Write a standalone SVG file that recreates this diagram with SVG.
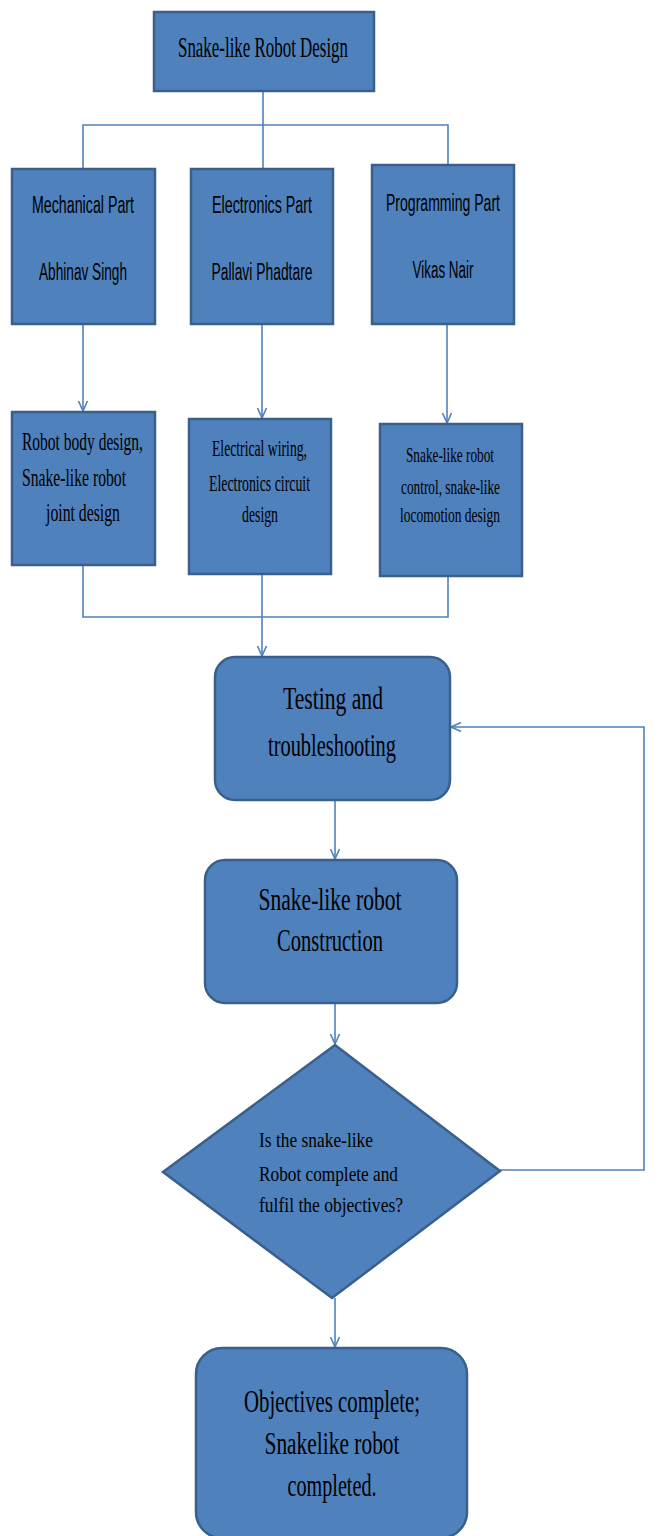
<svg xmlns="http://www.w3.org/2000/svg" width="668" height="1536" viewBox="0 0 668 1536">
<style>
.box{fill:#4F81BD;stroke:#3A5F8B;stroke-width:2.5}
.con{fill:none;stroke:#4F81BD;stroke-width:1.6}
.ser{font-family:"Liberation Serif",serif;fill:#000;text-anchor:middle}
.san{font-family:"Liberation Sans",sans-serif;fill:#000;text-anchor:middle}
.sl{font-family:"Liberation Serif",serif;fill:#000}
</style>
<defs>
<marker id="ah" markerUnits="userSpaceOnUse" markerWidth="12" markerHeight="12" viewBox="0 0 12 12" refX="11" refY="6" orient="auto">
<path d="M1,1.5 L11,6 L1,10.5" fill="none" stroke="#4F81BD" stroke-width="1.6"/>
</marker>
</defs>
<rect width="668" height="1536" fill="#fff"/>
<g id="connectors">
<path class="con" d="M263,92 V169"/>
<path class="con" d="M83,169 V125 H448 V165"/>
<path class="con" d="M83,324 V411" marker-end="url(#ah)"/>
<path class="con" d="M262,324 V418" marker-end="url(#ah)"/>
<path class="con" d="M447,324 V423" marker-end="url(#ah)"/>
<path class="con" d="M83,565 V617 H448 V577"/>
<path class="con" d="M262,574 V656" marker-end="url(#ah)"/>
<path class="con" d="M335,800 V859" marker-end="url(#ah)"/>
<path class="con" d="M335,1003 V1044" marker-end="url(#ah)"/>
<path class="con" d="M500,1170 H644 V727 H451" marker-end="url(#ah)"/>
<path class="con" d="M335,1298 V1347" marker-end="url(#ah)"/>
</g>
<g id="n-top">
<rect class="box" x="154" y="12" width="220" height="79"/>
<text class="ser" x="263" y="57" font-size="30" textLength="170" lengthAdjust="spacingAndGlyphs">Snake-like  Robot Design</text>
</g>
<g id="n-mech">
<rect class="box" x="12" y="169" width="143" height="155"/>
<text class="san" x="83" y="213" font-size="23" textLength="102" lengthAdjust="spacingAndGlyphs">Mechanical Part</text>
<text class="san" x="83" y="280" font-size="23" textLength="88" lengthAdjust="spacingAndGlyphs">Abhinav Singh</text>
</g>
<g id="n-elec">
<rect class="box" x="191" y="169" width="142" height="155"/>
<text class="san" x="262" y="213" font-size="23" textLength="100" lengthAdjust="spacingAndGlyphs">Electronics Part</text>
<text class="san" x="262" y="280" font-size="23" textLength="101" lengthAdjust="spacingAndGlyphs">Pallavi Phadtare</text>
</g>
<g id="n-prog">
<rect class="box" x="372" y="165" width="142" height="159"/>
<text class="san" x="443" y="211" font-size="23" textLength="114" lengthAdjust="spacingAndGlyphs">Programming Part</text>
<text class="san" x="443" y="278" font-size="23" textLength="61" lengthAdjust="spacingAndGlyphs">Vikas Nair</text>
</g>
<g id="n-body">
<rect class="box" x="12" y="412" width="143" height="153"/>
<text class="sl" x="22" y="450" font-size="25" textLength="121" lengthAdjust="spacingAndGlyphs">Robot body design,</text>
<text class="sl" x="22" y="486" font-size="25" textLength="104" lengthAdjust="spacingAndGlyphs">Snake-like robot</text>
<text class="sl" x="46" y="521" font-size="25" textLength="74" lengthAdjust="spacingAndGlyphs">joint design</text>
</g>
<g id="n-wiring">
<rect class="box" x="189" y="419" width="142" height="155"/>
<text class="sl" x="212" y="456" font-size="23" textLength="95" lengthAdjust="spacingAndGlyphs">Electrical  wiring,</text>
<text class="sl" x="209" y="491" font-size="23" textLength="101" lengthAdjust="spacingAndGlyphs">Electronics  circuit</text>
<text class="sl" x="242" y="522" font-size="23" textLength="36" lengthAdjust="spacingAndGlyphs">design</text>
</g>
<g id="n-control">
<rect class="box" x="380" y="424" width="142" height="152"/>
<text class="sl" x="406" y="462" font-size="22" textLength="88" lengthAdjust="spacingAndGlyphs">Snake-like robot</text>
<text class="sl" x="401" y="494" font-size="22" textLength="99" lengthAdjust="spacingAndGlyphs">control, snake-like</text>
<text class="sl" x="400" y="522" font-size="22" textLength="100" lengthAdjust="spacingAndGlyphs">locomotion design</text>
</g>
<g id="n-testing">
<rect class="box" x="215" y="657" width="235" height="143" rx="20"/>
<text class="ser" x="333" y="709" font-size="31" textLength="100" lengthAdjust="spacingAndGlyphs">Testing  and</text>
<text class="ser" x="332" y="756" font-size="31" textLength="128" lengthAdjust="spacingAndGlyphs">troubleshooting</text>
</g>
<g id="n-construction">
<rect class="box" x="205" y="860" width="252" height="143" rx="20"/>
<text class="ser" x="330" y="910" font-size="31" textLength="143" lengthAdjust="spacingAndGlyphs">Snake-like  robot</text>
<text class="ser" x="330" y="951" font-size="31" textLength="106" lengthAdjust="spacingAndGlyphs">Construction</text>
</g>
<g id="n-decision">
<polygon class="box" points="335,1045 500,1171 332,1298 163,1172"/>
<text class="sl" x="259" y="1147" font-size="21" textLength="114" lengthAdjust="spacingAndGlyphs">Is the snake-like</text>
<text class="sl" x="259" y="1181" font-size="21" textLength="139" lengthAdjust="spacingAndGlyphs">Robot complete and</text>
<text class="sl" x="259" y="1212" font-size="21" textLength="144" lengthAdjust="spacingAndGlyphs">fulfil the objectives?</text>
</g>
<g id="n-final">
<rect class="box" x="196" y="1348" width="271" height="190" rx="26"/>
<text class="ser" x="332" y="1412" font-size="32" textLength="176" lengthAdjust="spacingAndGlyphs">Objectives  complete;</text>
<text class="ser" x="332" y="1454" font-size="32" textLength="135" lengthAdjust="spacingAndGlyphs">Snakelike  robot</text>
<text class="ser" x="332" y="1496" font-size="32" textLength="89" lengthAdjust="spacingAndGlyphs">completed.</text>
</g>
</svg>
